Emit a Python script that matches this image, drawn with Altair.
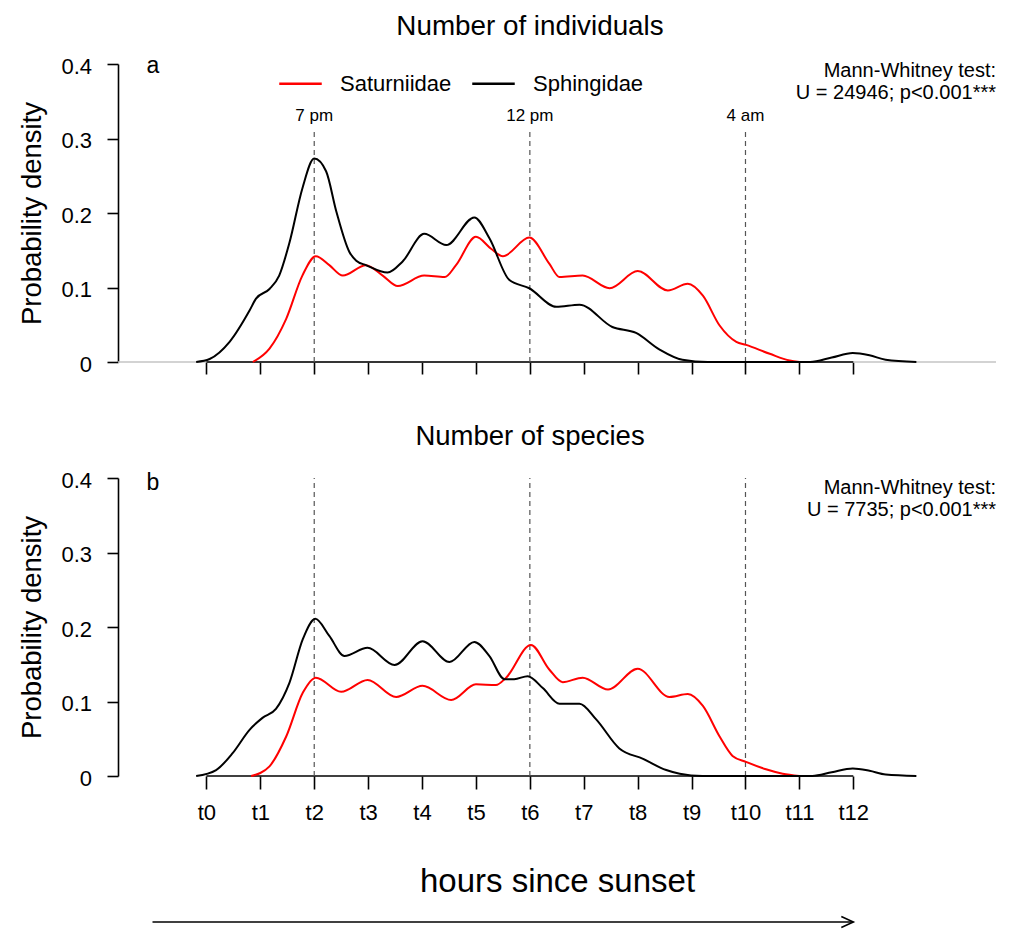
import altair as alt
import pandas as pd

FONT = "Liberation Sans"

# ---------------- data ----------------
# panel a: number of individuals
ind_sat_h = [0.86, 1.17, 1.48, 1.78, 2.03, 2.28, 2.53, 2.96, 3.27, 3.55, 4.04, 4.42, 4.63, 5.0, 5.28,
             5.5, 5.99, 6.36, 6.55, 6.98, 7.48, 8.0, 8.56, 8.93, 9.21, 9.52, 9.83, 10.01, 10.45, 10.82, 11.0]
ind_sat_d = [0.0, 0.018, 0.058, 0.116, 0.142, 0.13, 0.116, 0.130, 0.116, 0.102, 0.116, 0.114, 0.130, 0.168, 0.152,
             0.142, 0.167, 0.132, 0.114, 0.116, 0.099, 0.122, 0.096, 0.105, 0.089, 0.049, 0.027, 0.023, 0.011, 0.002, 0.0]
ind_sph_h = [-0.19, 0.06, 0.43, 0.8, 0.92, 1.17, 1.35, 1.54, 1.78, 2.0, 2.22, 2.41, 2.65, 2.78, 2.96, 3.36, 3.64,
             4.04, 4.45, 4.97, 5.25, 5.62, 5.99, 6.49, 6.92, 7.53, 7.97, 8.4, 8.83, 9.3, 11.2, 11.6, 11.99, 12.3,
             12.6, 13.17]
ind_sph_d = [0.0, 0.004, 0.027, 0.069, 0.085, 0.098, 0.116, 0.16, 0.233, 0.273, 0.256, 0.202, 0.148, 0.136, 0.130,
             0.12, 0.135, 0.172, 0.157, 0.194, 0.166, 0.11, 0.099, 0.074, 0.077, 0.047, 0.039, 0.017, 0.003, 0.0,
             0.0, 0.006, 0.012, 0.009, 0.003, 0.0]

# panel b: number of species
sp_sat_h = [0.83, 1.17, 1.48, 1.79, 2.03, 2.5, 2.99, 3.52, 4.01, 4.54, 5.0, 5.37, 5.56, 6.02, 6.36, 6.61, 6.98,
            7.45, 8.0, 8.59, 8.93, 9.21, 9.52, 9.76, 10.01, 10.38, 10.69, 11.0]
sp_sat_d = [0.0, 0.013, 0.053, 0.112, 0.132, 0.113, 0.129, 0.106, 0.121, 0.102, 0.123, 0.122, 0.132, 0.176, 0.143,
            0.126, 0.132, 0.116, 0.144, 0.106, 0.110, 0.094, 0.053, 0.027, 0.019, 0.009, 0.003, 0.0]
sp_sph_h = [-0.19, 0.18, 0.49, 0.8, 1.04, 1.29, 1.54, 1.79, 2.02, 2.28, 2.56, 2.99, 3.49, 4.01, 4.51, 4.97, 5.25,
            5.53, 5.71, 5.96, 6.24, 6.55, 6.92, 7.23, 7.66, 8.1, 8.53, 8.78, 9.2, 11.24, 11.6, 11.99, 12.3, 12.6,
            13.17]
sp_sph_d = [0.0, 0.008, 0.031, 0.062, 0.078, 0.09, 0.125, 0.184, 0.211, 0.188, 0.161, 0.172, 0.149, 0.181, 0.153,
            0.180, 0.161, 0.13, 0.13, 0.134, 0.118, 0.097, 0.097, 0.076, 0.037, 0.023, 0.008, 0.003, 0.0, 0.0,
            0.005, 0.010, 0.007, 0.002, 0.0]

families = ["Saturniidae", "Sphingidae"]
family_colors = ["#ff0000", "#000000"]

hour_ticks = list(range(13))
y_ticks = [0, 0.1, 0.2, 0.3, 0.4]

vline_hours = [2, 6, 10]
vline_labels = ["7 pm", "12 pm", "4 am"]

titles = ["Number of individuals", "Number of species"]
panel_letters = ["a", "b"]
mw_line1 = "Mann-Whitney test:"
mw_line2 = ["U = 24946; p<0.001***", "U = 7735; p<0.001***"]
x_title = "hours since sunset"

# ---------------- layout constants ----------------
W = 878
H = 298
X_DOMAIN = [-1.64, 14.647]
xscale = alt.Scale(domain=X_DOMAIN, nice=False, zero=False)
yscale = alt.Scale(domain=[0, 0.4], nice=False, zero=False)


def curves_df(sat_h, sat_d, sph_h, sph_d):
    rows = [{"h": h, "d": d, "family": families[0]} for h, d in zip(sat_h, sat_d)]
    rows += [{"h": h, "d": d, "family": families[1]} for h, d in zip(sph_h, sph_d)]
    return pd.DataFrame(rows)


def panel(i, df):
    top = i == 0
    yaxis = alt.Axis(values=y_ticks, labelExpr="datum.value == 0 ? '0' : format(datum.value, '.1f')",
                     title="Probability density", titleFontSize=27.5, titleFontWeight="normal",
                     titlePadding=14.5, labelFontSize=22, labelPadding=15.5, tickSize=11, labelOffset=2,
                     grid=False, domain=True)
    if top:
        xaxis = alt.Axis(values=hour_ticks, labels=False, domain=False, tickSize=12, title=None, grid=False)
    else:
        xaxis = alt.Axis(values=hour_ticks, labelExpr="'t' + datum.value", labelFontSize=22, labelPadding=13,
                         domain=False, tickSize=13, title=x_title, titleFontSize=33, titleFontWeight="normal",
                         titlePadding=42, grid=False)

    def X(f):
        return alt.X(f, scale=xscale, axis=xaxis, title=None if top else x_title)

    def Y(f):
        return alt.Y(f, scale=yscale, axis=yaxis, title="Probability density")

    if top:
        legend = alt.Legend(orient="none", legendX=160, legendY=-3, direction="horizontal", title=None,
                            symbolType="stroke", symbolSize=1806, symbolStrokeWidth=2.5, labelFontSize=22,
                            labelFont=FONT, labelOffset=17, columnPadding=15, padding=0, labelColor="black")
    else:
        legend = None

    layers = []
    if top:
        layers.append(alt.Chart(pd.DataFrame({"y": [0]})).mark_rule(color="#c4c4c4", strokeWidth=1.3).encode(
            y=Y("y:Q"), x=alt.value(0), x2=alt.value(W)))

    layers.append(alt.Chart(pd.DataFrame({"x0": [hour_ticks[0]], "x1": [hour_ticks[-1]], "y": [0]}))
                  .mark_rule(color="black", strokeWidth=1.6).encode(
        x=X("x0:Q"), x2="x1:Q", y=Y("y:Q")))

    vl = pd.DataFrame({"h": vline_hours, "lab": vline_labels, "y0": [0] * 3,
                       "y1": [0.312 if top else 0.4] * 3, "yl": [0.324] * 3})
    layers.append(alt.Chart(vl).mark_rule(color="#555555", strokeWidth=1.2, strokeDash=[5, 4]).encode(
        x=X("h:Q"), y=Y("y0:Q"), y2="y1:Q"))
    if top:
        layers.append(alt.Chart(vl).mark_text(fontSize=17, font=FONT, baseline="alphabetic", color="black").encode(
            x=X("h:Q"), y=Y("yl:Q"), text="lab:N"))

    layers.append(alt.Chart(df).mark_line(strokeWidth=2, interpolate="monotone").encode(
        x=X("h:Q"), y=Y("d:Q"),
        color=alt.Color("family:N", scale=alt.Scale(domain=families, range=family_colors), legend=legend),
    ))

    letter_y = 8.7 if top else 11.7
    layers.append(alt.Chart(pd.DataFrame({"t": [panel_letters[i]]})).mark_text(
        fontSize=23, font=FONT, align="left", baseline="alphabetic", color="black").encode(
        x=alt.value(28.4), y=alt.value(letter_y), text="t:N"))

    mw_y = [13.2, 35.2] if top else [15.5, 37.5]
    for txt, yy in zip([mw_line1, mw_line2[i]], mw_y):
        layers.append(alt.Chart(pd.DataFrame({"t": [txt]})).mark_text(
            fontSize=20, font=FONT, align="right", baseline="alphabetic", color="black").encode(
            x=alt.value(W), y=alt.value(yy), text="t:N"))

    if not top:
        arrow = pd.DataFrame({"x0": [-1], "x1": [12]})
        layers.append(alt.Chart(arrow).mark_rule(color="black", strokeWidth=1.6).encode(
            x=X("x0:Q"), x2="x1:Q", y=alt.value(444)))
        layers.append(alt.Chart(arrow).mark_point(
            shape="M -1 -0.45 L 0 0 L -1 0.45", filled=False, size=576, color="black",
            strokeWidth=1.6, opacity=1).encode(
            x=X("x1:Q"), y=alt.value(444)))

    return alt.layer(*layers).properties(
        width=W, height=H,
        title=alt.Title(titles[i], fontSize=27.8 if top else 27.5, fontWeight="normal", font=FONT,
                        color="black", frame="group", anchor="middle", baseline="alphabetic", dx=-27,
                        offset=-8 if top else -3),
    )


top_panel = panel(0, curves_df(ind_sat_h, ind_sat_d, ind_sph_h, ind_sph_d))
bottom_panel = panel(1, curves_df(sp_sat_h, sp_sat_d, sp_sph_h, sp_sph_d))

chart = alt.vconcat(top_panel, bottom_panel, spacing=47).resolve_legend(color="independent").properties(
    padding={"left": 10, "top": 4, "right": 5, "bottom": 0}
).configure_view(stroke=None).configure_axis(
    labelFont=FONT, titleFont=FONT, labelColor="black", titleColor="black",
    domainColor="black", tickColor="black", domainWidth=1.6, tickWidth=1.6,
).configure_text(font=FONT)

chart.save("out.html", embed_options={"renderer": "svg", "actions": False})
